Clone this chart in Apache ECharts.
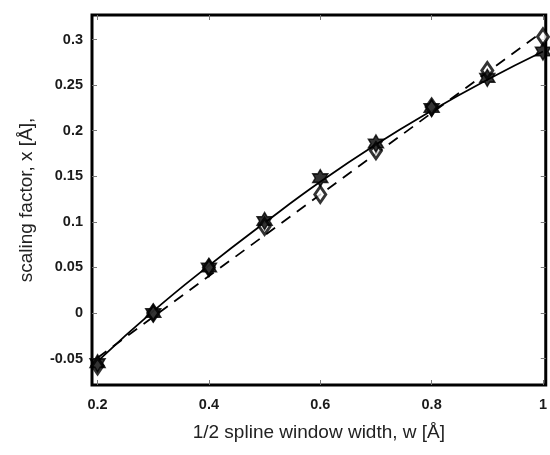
<!DOCTYPE html>
<html>
<head>
<meta charset="utf-8">
<script src="https://cdn.jsdelivr.net/npm/echarts@6/dist/echarts.min.js"></script>
<style>html,body{margin:0;padding:0;background:#fff}#c{width:550px;height:455px}</style>
</head>
<body>
<div id="c"></div>
<script>
// Data
const wValues = [0.2, 0.3, 0.4, 0.5, 0.6, 0.7, 0.8, 0.9, 1.0];
const starValues = [-0.055, 0.0, 0.05, 0.101, 0.148, 0.186, 0.225, 0.258, 0.287];
const diamondValues = [-0.058, 0.0, 0.05, 0.095, 0.130, 0.178, 0.226, 0.266, 0.303];
// solid fitted curve
const solidFitX = [0.2, 0.3, 0.4, 0.5, 0.6, 0.7, 0.8, 0.9, 1.0];
const solidFitY = [-0.053, 0.002, 0.052, 0.099, 0.144, 0.185, 0.222, 0.256, 0.287];
// dashed fitted line (read at its ends)
const dashFitX = [0.2, 1.0];
const dashFitY = [-0.049, 0.309];
const xTicks = [0.2, 0.4, 0.6, 0.8, 1];
const yTicks = [-0.05, 0, 0.05, 0.1, 0.15, 0.2, 0.25, 0.3];

const zip = (a, b) => a.map((v, i) => [v, b[i]]);
const hexagram = 'path://M100,0 L128.87,50 L186.6,50 L157.7,100 L186.6,150 L128.87,150 L100,200 L71.13,150 L13.4,150 L42.3,100 L13.4,50 L71.13,50 Z';

const chart = echarts.init(document.getElementById('c'), null, {renderer: 'canvas'});
const tickStyle = {show: true, inside: true, length: 5, lineStyle: {color: '#777', width: 1}};
const labelFont = {fontFamily: 'Liberation Sans, Arial, sans-serif', fontWeight: 'bold', fontSize: 14.5, color: '#1a1a1a'};
const titleFont = {fontFamily: 'Liberation Sans, Arial, sans-serif', fontSize: 19, color: '#222'};
chart.setOption({
  animation: false,
  backgroundColor: '#fff',
  grid: {left: 92, right: 2, top: 15, bottom: 70, show: true, borderColor: '#000', borderWidth: 3, backgroundColor: '#fff'},
  xAxis: [{
    type: 'value', min: 0.19, max: 1.005, position: 'bottom',
    name: '1/2 spline window width, w [Å]', nameLocation: 'middle', nameGap: 38,
    nameTextStyle: titleFont,
    axisLine: {show: false, onZero: false}, splitLine: {show: false},
    axisTick: Object.assign({customValues: xTicks}, tickStyle),
    axisLabel: Object.assign({customValues: xTicks, margin: 12, formatter: v => String(v)}, labelFont)
  }, {
    type: 'value', min: 0.19, max: 1.005, position: 'top',
    axisLine: {show: false, onZero: false}, splitLine: {show: false},
    axisTick: Object.assign({customValues: xTicks}, tickStyle),
    axisLabel: {show: false}
  }],
  yAxis: [{
    type: 'value', min: -0.079, max: 0.327, position: 'left',
    name: 'scaling factor, x [Å],', nameLocation: 'middle', nameGap: 56, nameRotate: 90,
    nameTextStyle: titleFont,
    axisLine: {show: false, onZero: false}, splitLine: {show: false},
    axisTick: Object.assign({customValues: yTicks}, tickStyle),
    axisLabel: Object.assign({customValues: yTicks, margin: 9, formatter: v => String(Math.round(v * 100) / 100)}, labelFont)
  }, {
    type: 'value', min: -0.079, max: 0.327, position: 'right',
    axisLine: {show: false, onZero: false}, splitLine: {show: false},
    axisTick: Object.assign({customValues: yTicks}, tickStyle),
    axisLabel: {show: false}
  }],
  series: [
    {type: 'line', data: zip(dashFitX, dashFitY), showSymbol: false, symbol: 'none',
     lineStyle: {color: '#000', width: 1.8, type: [11, 8]}, z: 2},
    {type: 'line', data: zip(solidFitX, solidFitY), smooth: true, showSymbol: false, symbol: 'none',
     lineStyle: {color: '#000', width: 1.8}, z: 2},
    {type: 'scatter', data: zip(wValues, diamondValues), symbol: 'diamond', symbolSize: [11, 16],
     itemStyle: {color: '#fff', borderColor: '#000', borderWidth: 3}, z: 3},
    {type: 'scatter', data: zip(wValues, starValues), symbol: hexagram, symbolSize: [15, 17],
     itemStyle: {color: '#000', borderColor: '#000', borderWidth: 1.5}, z: 4}
  ]
});
</script>
</body>
</html>
